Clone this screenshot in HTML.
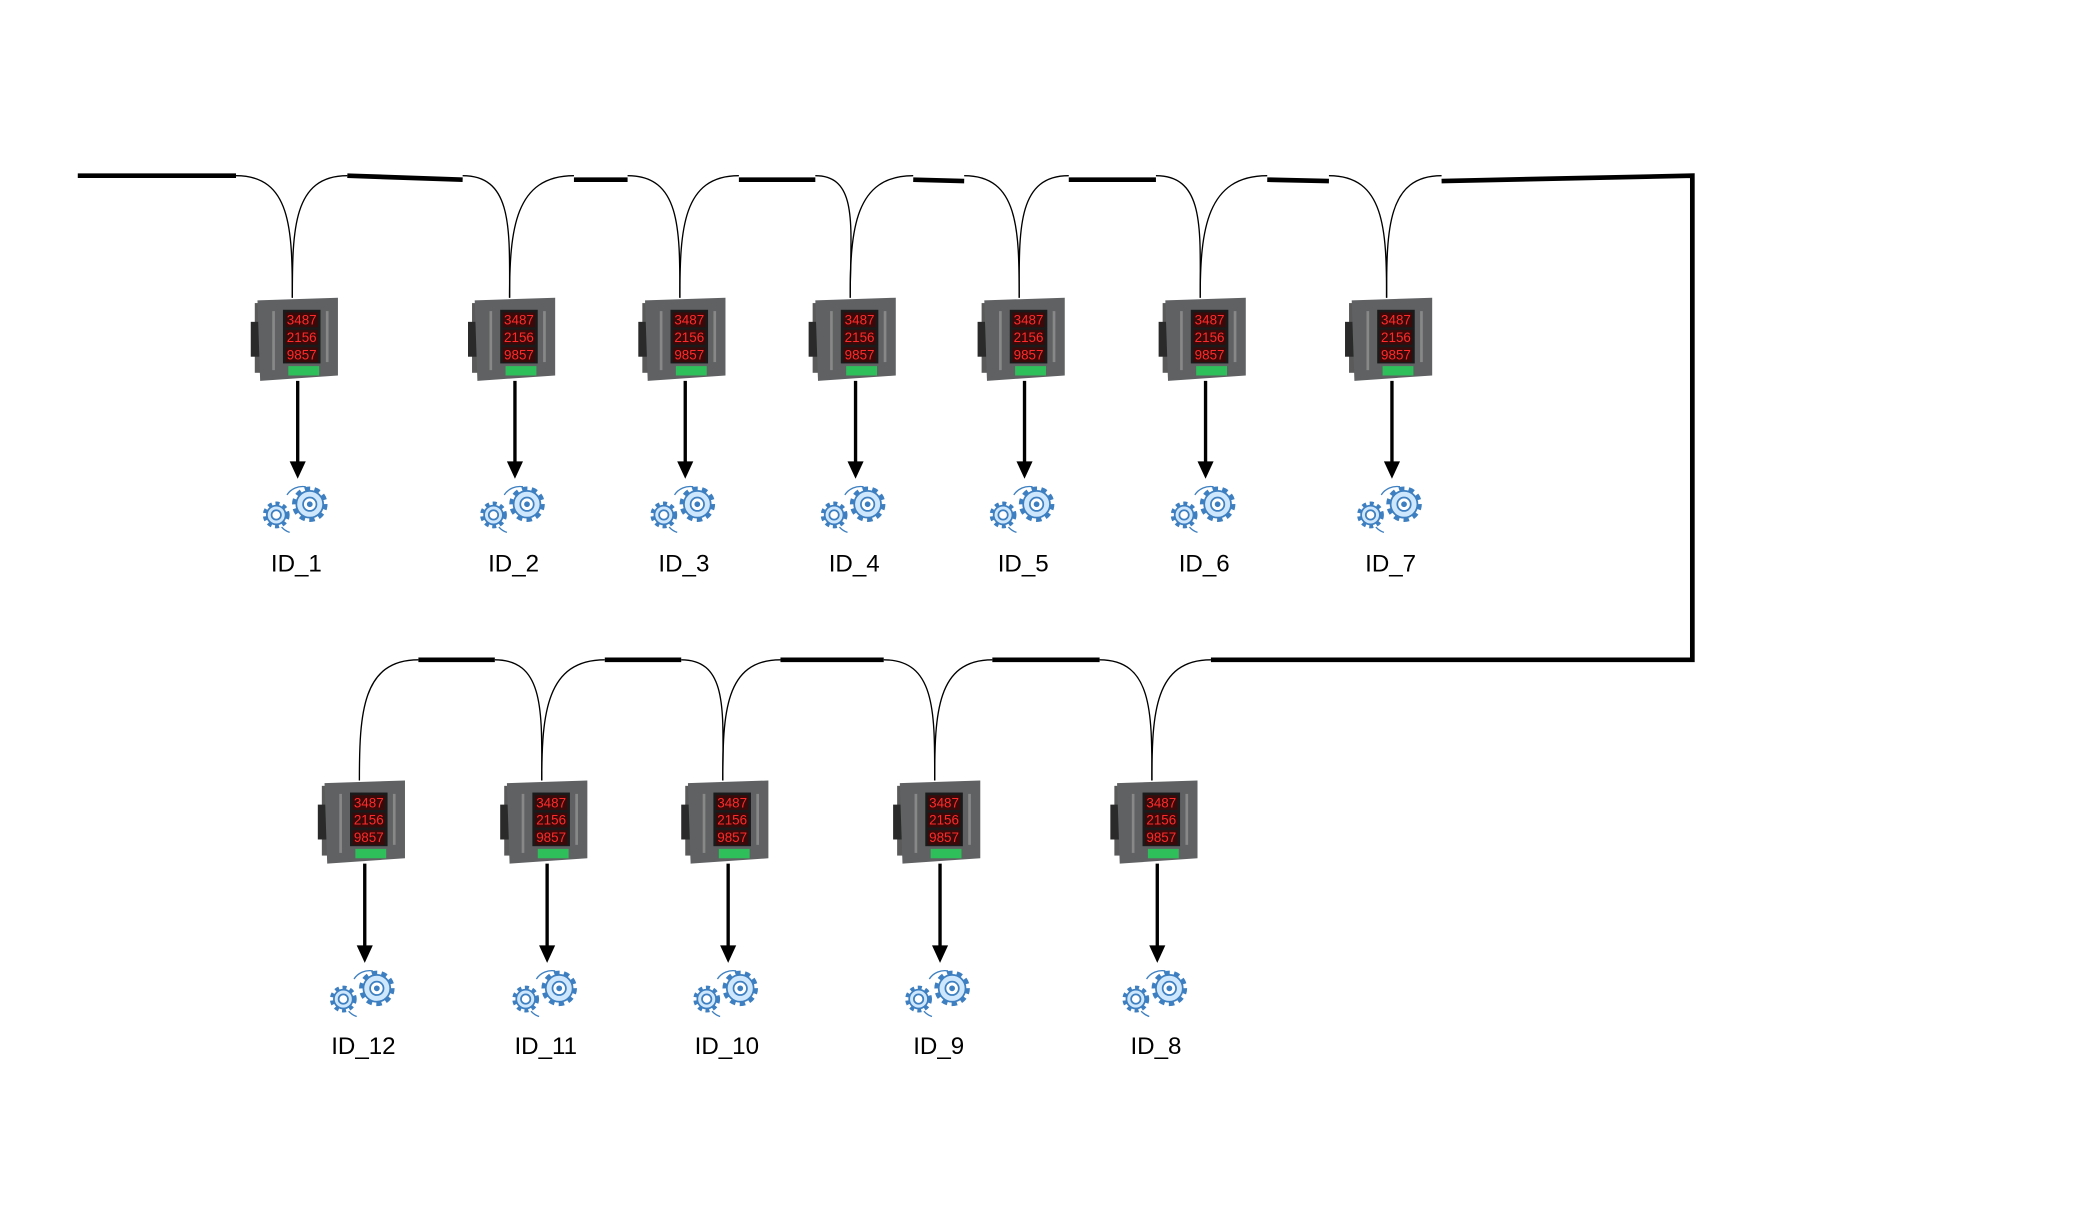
<!DOCTYPE html>
<html><head><meta charset="utf-8"><style>
html,body{margin:0;padding:0;background:#fff;}
svg{display:block;}
text{font-family:"Liberation Sans","DejaVu Sans",sans-serif;}
</style></head><body>
<svg id="d" width="2100" height="1219" viewBox="0 0 1566 909" preserveAspectRatio="none" xmlns="http://www.w3.org/2000/svg">
<defs>
<g id="meter">
 <rect x="0" y="4" width="10" height="52" fill="#5a5a5a"/>
 <rect x="-3" y="18" width="8" height="26" fill="#2a2a2a"/>
 <path d="M2,2 L62,0 L62,58 L4,62 Z" fill="#5f6163"/>
 <rect x="21" y="9" width="28" height="40" fill="#1a1a1a"/>
 <rect x="23" y="11" width="24" height="11" fill="#3a0a0a"/>
 <rect x="23" y="24" width="24" height="11" fill="#3a0a0a"/>
 <rect x="23" y="37" width="24" height="11" fill="#3a0a0a"/>
 <rect x="25" y="51" width="23" height="7" fill="#2fbf5a"/>
 <rect x="13" y="10" width="2" height="44" fill="#888"/>
 <rect x="53" y="10" width="2" height="38" fill="#888"/>
</g>
<g id="gears" fill="#cfe7fc" stroke="#3d7fc0" stroke-width="1.3">
 <circle cx="9" cy="-1" r="11.5" stroke-dasharray="4 3.2" stroke-width="3.5" fill="none"/>
 <circle cx="9" cy="-1" r="10"/>
 <circle cx="9" cy="-1" r="5" fill="#fff"/>
 <circle cx="9" cy="-1" r="1.5" fill="#3d7fc0"/>
 <circle cx="-16" cy="7" r="8.5" stroke-dasharray="3 2.6" stroke-width="3" fill="none"/>
 <circle cx="-16" cy="7" r="7"/>
 <circle cx="-16" cy="7" r="3.5" fill="#fff"/>
 <path d="M-8,-8 A14,14 0 0 1 6,-14" fill="none" stroke-width="1"/>
 <path d="M-6,20 A14,14 0 0 1 -12,16" fill="none" stroke-width="1"/>
</g>
</defs>
<g id="bus" stroke="#000" stroke-width="3.5" fill="none">
 <path d="M58,131 L176,131"/>
 <path d="M259,131 L345,134"/>
 <path d="M428,134 L468,134"/>
 <path d="M551,134 L608,134"/>
 <path d="M681,134 L719,135"/>
 <path d="M797,134 L862,134"/>
 <path d="M945,134 L991,135"/>
 <path d="M1075,135 L1262,131 L1262,492 L903,492"/>
 <path d="M312,492 L369,492"/>
 <path d="M451,492 L508,492"/>
 <path d="M582,492 L659,492"/>
 <path d="M740,492 L820,492"/>
</g>
<g id="nodes"></g>
</svg>
<script>
const ids=["ID_1","ID_2","ID_3","ID_4","ID_5","ID_6","ID_7","ID_12","ID_11","ID_10","ID_9","ID_8"];
const leftEnds=[176,345,468,608,719,862,991,312,369,508,659,820];
const rightEnds=[259,428,551,681,797,945,1075,312,451,582,740,903];
const meterX=[190,352,479,606,732,867,1006,240,376,511,669,831];
const rowOf=[0,0,0,0,0,0,0,1,1,1,1,1];
const NS="http://www.w3.org/2000/svg";
const rows=[{bus:131,top:222,arrEnd:357,gear:377,label:426},{bus:492,top:582,arrEnd:718,gear:738,label:786}];
const g=document.getElementById('nodes');
function mk(t,a){const e=document.createElementNS(NS,t);for(const k in a)e.setAttribute(k,a[k]);return e;}
ids.forEach((id,i)=>{
 const r=rows[rowOf[i]],mx=meterX[i],wx=mx+28,ax=mx+32;
 const grp=mk('g',{});
 
 
 const wires=[];
 if(i!==7) wires.push(leftEnds[i]);
 wires.push(rightEnds[i]);
 wires.forEach(ex=>{
  const p=mk('path',{d:`M${ex},${r.bus} C${(ex+wx)/2+(ex<wx?20:-20)},${r.bus} ${wx},${r.bus+40} ${wx},${r.top}`,stroke:'#000','stroke-width':1,fill:'none'});
  
  
  grp.appendChild(p);
 });
 const m=mk('use',{href:'#meter',x:mx,y:r.top});
 
 
 grp.appendChild(m);
 ["3487","2156","9857"].forEach((v,k)=>{
  const t=mk('text',{x:mx+35,y:r.top+20+k*13,'font-size':10,'fill':'#ff2a2a','text-anchor':'middle'});
  t.textContent=v;
  
  
  grp.appendChild(t);
 });
 const ln=mk('line',{x1:ax,y1:r.top+62,x2:ax,y2:r.arrEnd-12,stroke:'#000','stroke-width':2.5});
 
 
 grp.appendChild(ln);
 const ah=mk('path',{d:`M${ax-6},${r.arrEnd-13} L${ax+6},${r.arrEnd-13} L${ax},${r.arrEnd} Z`,fill:'#000'});
 
 
 grp.appendChild(ah);
 const ge=mk('use',{href:'#gears',x:ax,y:r.gear});
 
 
 grp.appendChild(ge);
 const lb=mk('text',{x:ax-1,y:r.label,'font-size':18,'fill':'#000','text-anchor':'middle'});
 lb.textContent=id;
 
 
 grp.appendChild(lb);
 g.appendChild(grp);
});
</script>
</body></html>
